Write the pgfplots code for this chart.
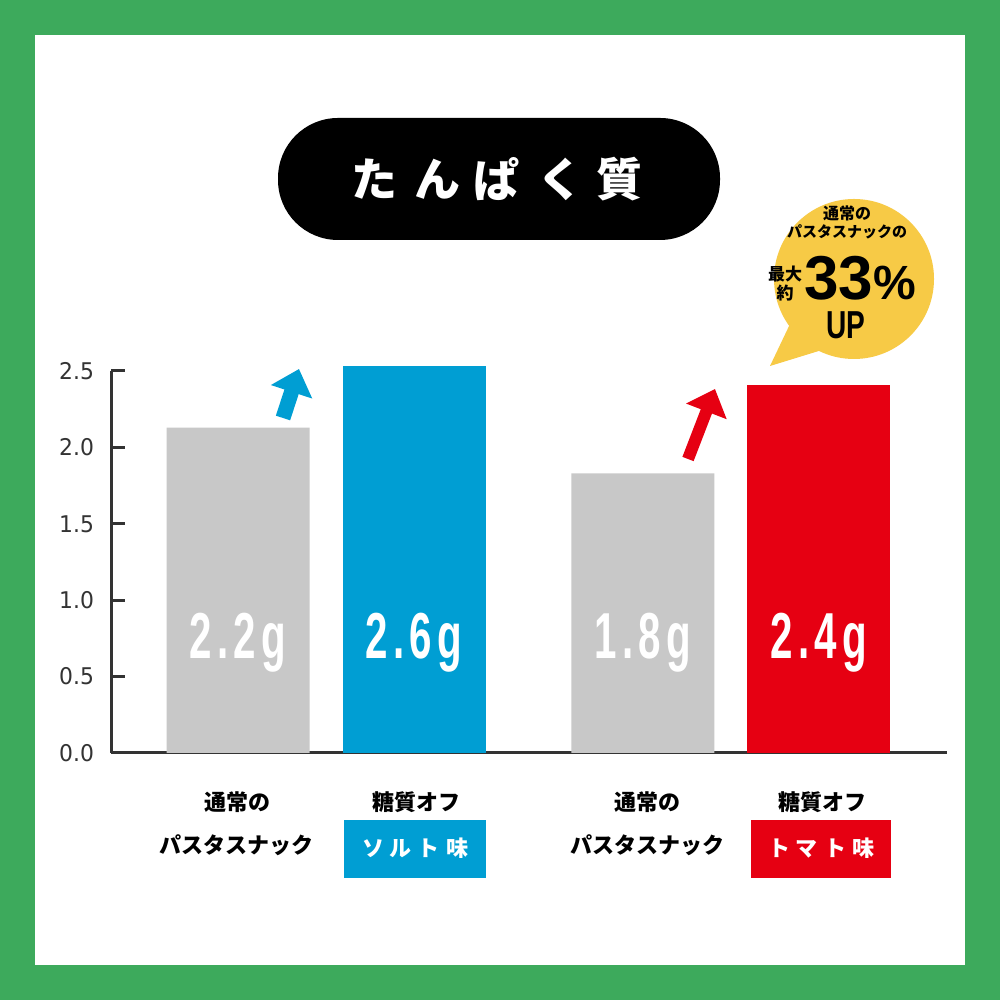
\documentclass[border=0pt]{standalone}
\usepackage{pgfplots}
\pgfplotsset{compat=1.18}
\usetikzlibrary{arrows.meta}
\usepackage{fontspec}
\setmainfont{DejaVu Sans}
\newfontfamily\jp{Noto Sans CJK JP}
\newfontfamily\numc{Liberation Sans}[FakeStretch=0.62, LetterSpace=8]
\newfontfamily\numu{Liberation Sans}[FakeStretch=0.72]
\newfontfamily\numn{Liberation Sans}
\newfontfamily\tickf{DejaVu Sans}[FakeStretch=0.95]
\definecolor{greenbg}{RGB}{61,170,92}
\definecolor{barblue}{RGB}{0,158,211}
\definecolor{barred}{RGB}{230,0,18}
\definecolor{bargray}{RGB}{200,200,200}
\definecolor{axisgray}{RGB}{51,51,51}
\definecolor{bubble}{RGB}{247,202,70}
\begin{document}
\begin{tikzpicture}[x=0.5pt,y=0.5pt]
\fill[greenbg] (0,0) rectangle (1000,1000);
\fill[white] (35,35) rectangle (965,965);
% title pill
\fill[black, rounded corners=30pt] (278,882) rectangle (720,760);
\begin{scope}[every node/.style={text=white, inner sep=0pt, font=\jp\bfseries\fontsize{23}{26}\selectfont}]
\node at (374,821) {た};
\node at (437,821) {ん};
\node at (496,821) {ぱ};
\node at (560,821) {く};
\node at (619,821) {質};
\end{scope}
\begin{axis}[
  at={(55.5pt,123.5pt)}, anchor=south west,
  scale only axis, width=418pt, height=191pt,
  xmin=-0.7216, xmax=4.028, ymin=0, ymax=2.5,
  axis x line=bottom, axis y line=left,
  axis line style={-, line width=1.5pt, color=axisgray},
  xtick=\empty,
  ytick={0,0.5,1,1.5,2,2.5},
  tick align=inside, major tick length=7pt,
  tick style={line width=1.5pt, color=axisgray},
  yticklabel style={font=\tickf\fontsize{11.5}{13}\selectfont, text=axisgray, xshift=-5pt},
  /pgf/number format/.cd, fixed, fixed zerofill, precision=1, assume math mode=true,
  /pgfplots/.cd,
  ybar, bar width=71.5pt, bar shift=0pt,
  clip=false,
]
\addplot[fill=bargray, draw=none] coordinates {(0,2.13) (2.3,1.83)};
\addplot[fill=barblue, draw=none] coordinates {(1,2.53)};
\addplot[fill=barred, draw=none] coordinates {(3.3,2.41)};
\begin{scope}[every node/.style={anchor=base, text=white, inner sep=0pt, font=\numc\bfseries\fontsize{32.5}{33}\selectfont}]
\node at (axis cs:0,0.62) {2.2g};
\node at (axis cs:1,0.62) {2.6g};
\node at (axis cs:2.3,0.62) {1.8g};
\node at (axis cs:3.3,0.62) {2.4g};
\end{scope}
\end{axis}
% arrows
\draw[barblue, line width=7.5pt, -{Triangle[length=12pt,width=21pt]}] (283,582) -- (299,631);
\draw[barred, line width=6pt, -{Triangle[length=12pt,width=21pt]}] (688,541) -- (715,611);
% category labels
\begin{scope}[every node/.style={inner sep=0pt, font=\jp\bfseries\fontsize{11}{13}\selectfont}]
\node at (237,198) {通常の};
\node at (236,155) {パスタスナック};
\node at (416,198) {糖質オフ};
\node at (647,198) {通常の};
\node at (647,155) {パスタスナック};
\node at (822,198) {糖質オフ};
\end{scope}
\fill[barblue] (344,180) rectangle (486,122);
\fill[barred] (751,180) rectangle (891,122);
\begin{scope}[every node/.style={inner sep=0pt, text=white, font=\jp\bfseries\fontsize{11}{13}\selectfont}]
\node at (415,152) {ソ\hspace{3pt}ル\hspace{3pt}ト\hspace{3pt}味};
\node at (821,152) {ト\hspace{3pt}マ\hspace{3pt}ト\hspace{3pt}味};
\end{scope}
% bubble
\fill[bubble] (854,721) circle (80);
\fill[bubble] (790,676) -- (770,634) -- (822,650) -- cycle;
\begin{scope}[every node/.style={inner sep=0pt, text=black}]
\node[font=\jp\bfseries\fontsize{8}{9}\selectfont] at (847,787) {通常の};
\node[font=\jp\bfseries\fontsize{7.5}{9}\selectfont] at (847,768) {パスタスナックの};
\node[font=\jp\bfseries\fontsize{8.5}{9}\selectfont] at (785,726) {最大};
\node[font=\jp\bfseries\fontsize{8.5}{9}\selectfont] at (785,707) {約};
\node[anchor=base west, text depth=0pt, font=\numn\bfseries] at (804,700) {\fontsize{31}{31}\selectfont 33\fontsize{24}{24}\selectfont\%};
\node[anchor=base, text depth=0pt, text height=14pt, font=\numu\bfseries\fontsize{19.5}{20}\selectfont] at (846,661) {UP};
\end{scope}
\end{tikzpicture}
\end{document}
